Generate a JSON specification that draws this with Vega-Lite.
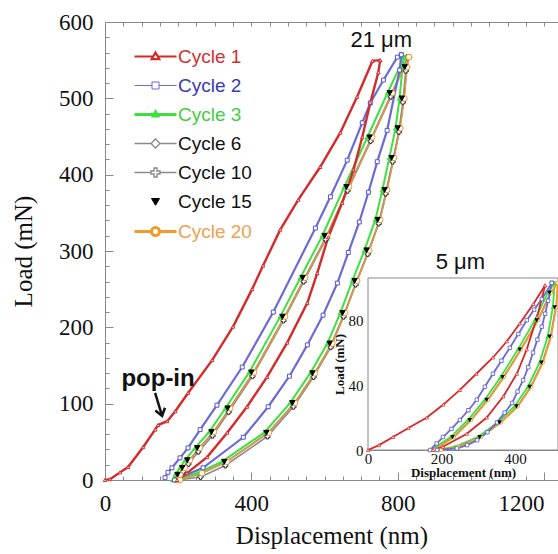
{
 "$schema": "https://vega.github.io/schema/vega-lite/v6.json",
 "width": 453, "height": 458,
 "autosize": {"type": "none"},
 "padding": {"left": 105, "top": 22, "right": 0, "bottom": 74},
 "background": "white",
 "config": {"view": {"stroke": null}, "axis": {"grid": false, "domainColor": "#888", "tickColor": "#888", "labelColor": "#111", "titleColor": "#111", "labelFont": "Liberation Serif", "titleFont": "Liberation Serif", "titleFontWeight": "normal", "labelOverlap": false, "labelFlush": false}},
 "datasets": {
  "m": [
   {"c":"Cycle 6","b":"L","x":198,"y":0},{"c":"Cycle 6","b":"L","x":204,"y":7},{"c":"Cycle 6","b":"L","x":217,"y":16},{"c":"Cycle 6","b":"L","x":231,"y":26},{"c":"Cycle 6","b":"L","x":258,"y":42},{"c":"Cycle 6","b":"L","x":297,"y":63},{"c":"Cycle 6","b":"L","x":341,"y":94},{"c":"Cycle 6","b":"L","x":406,"y":141},{"c":"Cycle 6","b":"L","x":491,"y":214},{"c":"Cycle 6","b":"L","x":546,"y":265},{"c":"Cycle 6","b":"L","x":606,"y":320},{"c":"Cycle 6","b":"L","x":666,"y":384},{"c":"Cycle 6","b":"L","x":729,"y":449},{"c":"Cycle 6","b":"L","x":784,"y":507},{"c":"Cycle 6","b":"L","x":830,"y":554},
   {"c":"Cycle 6","b":"U","x":830,"y":554},{"c":"Cycle 6","b":"U","x":825,"y":541},{"c":"Cycle 6","b":"U","x":817,"y":500},{"c":"Cycle 6","b":"U","x":806,"y":461},{"c":"Cycle 6","b":"U","x":789,"y":422},{"c":"Cycle 6","b":"U","x":770,"y":380},{"c":"Cycle 6","b":"U","x":751,"y":341},{"c":"Cycle 6","b":"U","x":721,"y":301},{"c":"Cycle 6","b":"U","x":688,"y":261},{"c":"Cycle 6","b":"U","x":655,"y":219},{"c":"Cycle 6","b":"U","x":620,"y":179},{"c":"Cycle 6","b":"U","x":573,"y":140},{"c":"Cycle 6","b":"U","x":518,"y":101},{"c":"Cycle 6","b":"U","x":447,"y":62},{"c":"Cycle 6","b":"U","x":332,"y":24},{"c":"Cycle 6","b":"U","x":264,"y":9},{"c":"Cycle 6","b":"U","x":204,"y":0},
   {"c":"Cycle 10","b":"L","x":195,"y":0},{"c":"Cycle 10","b":"L","x":201,"y":2},{"c":"Cycle 10","b":"L","x":214,"y":11},{"c":"Cycle 10","b":"L","x":228,"y":21},{"c":"Cycle 10","b":"L","x":255,"y":37},{"c":"Cycle 10","b":"L","x":294,"y":58},{"c":"Cycle 10","b":"L","x":338,"y":89},{"c":"Cycle 10","b":"L","x":403,"y":136},{"c":"Cycle 10","b":"L","x":488,"y":209},{"c":"Cycle 10","b":"L","x":543,"y":260},{"c":"Cycle 10","b":"L","x":603,"y":315},{"c":"Cycle 10","b":"L","x":663,"y":379},{"c":"Cycle 10","b":"L","x":726,"y":444},{"c":"Cycle 10","b":"L","x":781,"y":502},{"c":"Cycle 10","b":"L","x":827,"y":554},
   {"c":"Cycle 10","b":"U","x":827,"y":554},{"c":"Cycle 10","b":"U","x":822,"y":536},{"c":"Cycle 10","b":"U","x":814,"y":495},{"c":"Cycle 10","b":"U","x":803,"y":456},{"c":"Cycle 10","b":"U","x":786,"y":417},{"c":"Cycle 10","b":"U","x":767,"y":375},{"c":"Cycle 10","b":"U","x":748,"y":336},{"c":"Cycle 10","b":"U","x":718,"y":296},{"c":"Cycle 10","b":"U","x":685,"y":256},{"c":"Cycle 10","b":"U","x":652,"y":214},{"c":"Cycle 10","b":"U","x":617,"y":174},{"c":"Cycle 10","b":"U","x":570,"y":135},{"c":"Cycle 10","b":"U","x":515,"y":96},{"c":"Cycle 10","b":"U","x":444,"y":57},{"c":"Cycle 10","b":"U","x":329,"y":19},{"c":"Cycle 10","b":"U","x":261,"y":4},{"c":"Cycle 10","b":"U","x":201,"y":0},
   {"c":"Cycle 3","b":"L","x":186,"y":0},{"c":"Cycle 3","b":"L","x":192,"y":7},{"c":"Cycle 3","b":"L","x":205,"y":16},{"c":"Cycle 3","b":"L","x":219,"y":26},{"c":"Cycle 3","b":"L","x":246,"y":42},{"c":"Cycle 3","b":"L","x":285,"y":63},{"c":"Cycle 3","b":"L","x":329,"y":94},{"c":"Cycle 3","b":"L","x":394,"y":141},{"c":"Cycle 3","b":"L","x":479,"y":214},{"c":"Cycle 3","b":"L","x":534,"y":265},{"c":"Cycle 3","b":"L","x":594,"y":320},{"c":"Cycle 3","b":"L","x":654,"y":384},{"c":"Cycle 3","b":"L","x":717,"y":449},{"c":"Cycle 3","b":"L","x":772,"y":507},{"c":"Cycle 3","b":"L","x":818,"y":554},
   {"c":"Cycle 3","b":"U","x":818,"y":554},{"c":"Cycle 3","b":"U","x":813,"y":541},{"c":"Cycle 3","b":"U","x":805,"y":500},{"c":"Cycle 3","b":"U","x":794,"y":461},{"c":"Cycle 3","b":"U","x":777,"y":422},{"c":"Cycle 3","b":"U","x":758,"y":380},{"c":"Cycle 3","b":"U","x":739,"y":341},{"c":"Cycle 3","b":"U","x":709,"y":301},{"c":"Cycle 3","b":"U","x":676,"y":261},{"c":"Cycle 3","b":"U","x":643,"y":219},{"c":"Cycle 3","b":"U","x":608,"y":179},{"c":"Cycle 3","b":"U","x":561,"y":140},{"c":"Cycle 3","b":"U","x":506,"y":101},{"c":"Cycle 3","b":"U","x":435,"y":62},{"c":"Cycle 3","b":"U","x":320,"y":24},{"c":"Cycle 3","b":"U","x":252,"y":9},{"c":"Cycle 3","b":"U","x":192,"y":0},
   {"c":"Cycle 20","b":"L","x":199,"y":0},{"c":"Cycle 20","b":"L","x":205,"y":7},{"c":"Cycle 20","b":"L","x":218,"y":16},{"c":"Cycle 20","b":"L","x":232,"y":26},{"c":"Cycle 20","b":"L","x":259,"y":42},{"c":"Cycle 20","b":"L","x":298,"y":63},{"c":"Cycle 20","b":"L","x":342,"y":94},{"c":"Cycle 20","b":"L","x":407,"y":141},{"c":"Cycle 20","b":"L","x":492,"y":214},{"c":"Cycle 20","b":"L","x":547,"y":265},{"c":"Cycle 20","b":"L","x":607,"y":320},{"c":"Cycle 20","b":"L","x":667,"y":384},{"c":"Cycle 20","b":"L","x":730,"y":449},{"c":"Cycle 20","b":"L","x":785,"y":507},{"c":"Cycle 20","b":"L","x":831,"y":554},
   {"c":"Cycle 20","b":"U","x":831,"y":554},{"c":"Cycle 20","b":"U","x":826,"y":541},{"c":"Cycle 20","b":"U","x":818,"y":500},{"c":"Cycle 20","b":"U","x":807,"y":461},{"c":"Cycle 20","b":"U","x":790,"y":422},{"c":"Cycle 20","b":"U","x":771,"y":380},{"c":"Cycle 20","b":"U","x":752,"y":341},{"c":"Cycle 20","b":"U","x":722,"y":301},{"c":"Cycle 20","b":"U","x":689,"y":261},{"c":"Cycle 20","b":"U","x":656,"y":219},{"c":"Cycle 20","b":"U","x":621,"y":179},{"c":"Cycle 20","b":"U","x":574,"y":140},{"c":"Cycle 20","b":"U","x":519,"y":101},{"c":"Cycle 20","b":"U","x":448,"y":62},{"c":"Cycle 20","b":"U","x":333,"y":24},{"c":"Cycle 20","b":"U","x":265,"y":9},{"c":"Cycle 20","b":"U","x":205,"y":0},
   {"c":"Cycle 2","b":"L","x":164,"y":3},{"c":"Cycle 2","b":"L","x":172,"y":10},{"c":"Cycle 2","b":"L","x":183,"y":16},{"c":"Cycle 2","b":"L","x":205,"y":29},{"c":"Cycle 2","b":"L","x":227,"y":42},{"c":"Cycle 2","b":"L","x":260,"y":66},{"c":"Cycle 2","b":"L","x":306,"y":98},{"c":"Cycle 2","b":"L","x":375,"y":148},{"c":"Cycle 2","b":"L","x":460,"y":220},{"c":"Cycle 2","b":"L","x":575,"y":330},{"c":"Cycle 2","b":"L","x":616,"y":371},{"c":"Cycle 2","b":"L","x":662,"y":419},{"c":"Cycle 2","b":"L","x":703,"y":468},{"c":"Cycle 2","b":"L","x":725,"y":494},{"c":"Cycle 2","b":"L","x":761,"y":524},{"c":"Cycle 2","b":"L","x":799,"y":554},{"c":"Cycle 2","b":"L","x":810,"y":557},
   {"c":"Cycle 2","b":"U","x":810,"y":557},{"c":"Cycle 2","b":"U","x":805,"y":537},{"c":"Cycle 2","b":"U","x":771,"y":458},{"c":"Cycle 2","b":"U","x":744,"y":417},{"c":"Cycle 2","b":"U","x":720,"y":377},{"c":"Cycle 2","b":"U","x":695,"y":338},{"c":"Cycle 2","b":"U","x":665,"y":298},{"c":"Cycle 2","b":"U","x":635,"y":258},{"c":"Cycle 2","b":"U","x":596,"y":216},{"c":"Cycle 2","b":"U","x":553,"y":177},{"c":"Cycle 2","b":"U","x":504,"y":136},{"c":"Cycle 2","b":"U","x":446,"y":96},{"c":"Cycle 2","b":"U","x":378,"y":56},{"c":"Cycle 2","b":"U","x":268,"y":16},{"c":"Cycle 2","b":"U","x":190,"y":0},
   {"c":"Cycle 1","b":"L","x":0,"y":0},{"c":"Cycle 1","b":"L","x":14,"y":1},{"c":"Cycle 1","b":"L","x":41,"y":10},{"c":"Cycle 1","b":"L","x":63,"y":17},{"c":"Cycle 1","b":"L","x":104,"y":43},{"c":"Cycle 1","b":"L","x":137,"y":66},{"c":"Cycle 1","b":"L","x":145,"y":72},{"c":"Cycle 1","b":"L","x":170,"y":77},{"c":"Cycle 1","b":"L","x":192,"y":90},{"c":"Cycle 1","b":"L","x":227,"y":114},{"c":"Cycle 1","b":"L","x":293,"y":157},{"c":"Cycle 1","b":"L","x":350,"y":201},{"c":"Cycle 1","b":"L","x":402,"y":250},{"c":"Cycle 1","b":"L","x":432,"y":281},{"c":"Cycle 1","b":"L","x":479,"y":328},{"c":"Cycle 1","b":"L","x":528,"y":367},{"c":"Cycle 1","b":"L","x":588,"y":410},{"c":"Cycle 1","b":"L","x":643,"y":455},{"c":"Cycle 1","b":"L","x":689,"y":502},{"c":"Cycle 1","b":"L","x":731,"y":549},{"c":"Cycle 1","b":"L","x":752,"y":550},
   {"c":"Cycle 1","b":"U","x":752,"y":550},{"c":"Cycle 1","b":"U","x":747,"y":534},{"c":"Cycle 1","b":"U","x":725,"y":494},{"c":"Cycle 1","b":"U","x":703,"y":449},{"c":"Cycle 1","b":"U","x":679,"y":406},{"c":"Cycle 1","b":"U","x":648,"y":363},{"c":"Cycle 1","b":"U","x":610,"y":318},{"c":"Cycle 1","b":"U","x":580,"y":271},{"c":"Cycle 1","b":"U","x":553,"y":232},{"c":"Cycle 1","b":"U","x":498,"y":180},{"c":"Cycle 1","b":"U","x":443,"y":135},{"c":"Cycle 1","b":"U","x":388,"y":96},{"c":"Cycle 1","b":"U","x":334,"y":62},{"c":"Cycle 1","b":"U","x":279,"y":30},{"c":"Cycle 1","b":"U","x":224,"y":9},{"c":"Cycle 1","b":"U","x":197,"y":0},
   {"c":"Cycle 15","b":"L","x":198,"y":7},{"c":"Cycle 15","b":"L","x":211,"y":16},{"c":"Cycle 15","b":"L","x":225,"y":26},{"c":"Cycle 15","b":"L","x":252,"y":42},{"c":"Cycle 15","b":"L","x":291,"y":63},{"c":"Cycle 15","b":"L","x":335,"y":94},{"c":"Cycle 15","b":"L","x":400,"y":141},{"c":"Cycle 15","b":"L","x":485,"y":214},{"c":"Cycle 15","b":"L","x":540,"y":265},{"c":"Cycle 15","b":"L","x":600,"y":320},{"c":"Cycle 15","b":"L","x":660,"y":384},{"c":"Cycle 15","b":"L","x":723,"y":449},{"c":"Cycle 15","b":"L","x":778,"y":507},
   {"c":"Cycle 15","b":"U","x":819,"y":541},{"c":"Cycle 15","b":"U","x":811,"y":500},{"c":"Cycle 15","b":"U","x":800,"y":461},{"c":"Cycle 15","b":"U","x":783,"y":422},{"c":"Cycle 15","b":"U","x":764,"y":380},{"c":"Cycle 15","b":"U","x":745,"y":341},{"c":"Cycle 15","b":"U","x":715,"y":301},{"c":"Cycle 15","b":"U","x":682,"y":261},{"c":"Cycle 15","b":"U","x":649,"y":219},{"c":"Cycle 15","b":"U","x":614,"y":179},{"c":"Cycle 15","b":"U","x":567,"y":140},{"c":"Cycle 15","b":"U","x":512,"y":101},{"c":"Cycle 15","b":"U","x":441,"y":62},{"c":"Cycle 15","b":"U","x":326,"y":24}
  ],
  "n": [
   {"c":"Cycle 6","b":"L","x":179,"y":0},{"c":"Cycle 6","b":"L","x":233,"y":8},{"c":"Cycle 6","b":"L","x":280,"y":18.5},{"c":"Cycle 6","b":"L","x":326,"y":31},{"c":"Cycle 6","b":"L","x":369,"y":45},{"c":"Cycle 6","b":"L","x":416,"y":62},{"c":"Cycle 6","b":"L","x":462,"y":80},{"c":"Cycle 6","b":"L","x":497,"y":97},
   {"c":"Cycle 6","b":"U","x":511,"y":88},{"c":"Cycle 6","b":"U","x":497,"y":70},{"c":"Cycle 6","b":"U","x":475,"y":54},{"c":"Cycle 6","b":"U","x":443,"y":39},{"c":"Cycle 6","b":"U","x":407,"y":27},{"c":"Cycle 6","b":"U","x":361,"y":17},{"c":"Cycle 6","b":"U","x":307,"y":8},{"c":"Cycle 6","b":"U","x":244,"y":2},
   {"c":"Cycle 3","b":"L","x":171,"y":0},{"c":"Cycle 3","b":"L","x":225,"y":8},{"c":"Cycle 3","b":"L","x":272,"y":18.5},{"c":"Cycle 3","b":"L","x":318,"y":31},{"c":"Cycle 3","b":"L","x":361,"y":45},{"c":"Cycle 3","b":"L","x":408,"y":62},{"c":"Cycle 3","b":"L","x":454,"y":80},{"c":"Cycle 3","b":"L","x":489,"y":97},{"c":"Cycle 3","b":"L","x":508,"y":103},
   {"c":"Cycle 3","b":"U","x":508,"y":103},{"c":"Cycle 3","b":"U","x":503,"y":88},{"c":"Cycle 3","b":"U","x":489,"y":70},{"c":"Cycle 3","b":"U","x":467,"y":54},{"c":"Cycle 3","b":"U","x":435,"y":39},{"c":"Cycle 3","b":"U","x":399,"y":27},{"c":"Cycle 3","b":"U","x":353,"y":17},{"c":"Cycle 3","b":"U","x":299,"y":8},{"c":"Cycle 3","b":"U","x":236,"y":2},{"c":"Cycle 3","b":"U","x":190,"y":0},
   {"c":"Cycle 20","b":"L","x":180,"y":0},{"c":"Cycle 20","b":"L","x":234,"y":8},{"c":"Cycle 20","b":"L","x":281,"y":18.5},{"c":"Cycle 20","b":"L","x":327,"y":31},{"c":"Cycle 20","b":"L","x":370,"y":45},{"c":"Cycle 20","b":"L","x":417,"y":62},{"c":"Cycle 20","b":"L","x":463,"y":80},{"c":"Cycle 20","b":"L","x":498,"y":97},{"c":"Cycle 20","b":"L","x":516,"y":103},
   {"c":"Cycle 20","b":"U","x":516,"y":103},{"c":"Cycle 20","b":"U","x":512,"y":88},{"c":"Cycle 20","b":"U","x":498,"y":70},{"c":"Cycle 20","b":"U","x":476,"y":54},{"c":"Cycle 20","b":"U","x":444,"y":39},{"c":"Cycle 20","b":"U","x":408,"y":27},{"c":"Cycle 20","b":"U","x":362,"y":17},{"c":"Cycle 20","b":"U","x":308,"y":8},{"c":"Cycle 20","b":"U","x":245,"y":2},{"c":"Cycle 20","b":"U","x":199,"y":0},
   {"c":"Cycle 2","b":"L","x":169,"y":0},{"c":"Cycle 2","b":"L","x":187,"y":4},{"c":"Cycle 2","b":"L","x":204,"y":8},{"c":"Cycle 2","b":"L","x":227,"y":13},{"c":"Cycle 2","b":"L","x":250,"y":18.5},{"c":"Cycle 2","b":"L","x":273,"y":24.5},{"c":"Cycle 2","b":"L","x":296,"y":31},{"c":"Cycle 2","b":"L","x":318,"y":39},{"c":"Cycle 2","b":"L","x":340,"y":47},{"c":"Cycle 2","b":"L","x":363,"y":55},{"c":"Cycle 2","b":"L","x":386,"y":63},{"c":"Cycle 2","b":"L","x":409,"y":71.5},{"c":"Cycle 2","b":"L","x":432,"y":80},{"c":"Cycle 2","b":"L","x":452,"y":86.5},{"c":"Cycle 2","b":"L","x":473,"y":93},{"c":"Cycle 2","b":"L","x":500,"y":103},
   {"c":"Cycle 2","b":"U","x":500,"y":103},{"c":"Cycle 2","b":"U","x":490,"y":92},{"c":"Cycle 2","b":"U","x":482,"y":84},{"c":"Cycle 2","b":"U","x":473,"y":76},{"c":"Cycle 2","b":"U","x":461,"y":68},{"c":"Cycle 2","b":"U","x":449,"y":60},{"c":"Cycle 2","b":"U","x":436,"y":51},{"c":"Cycle 2","b":"U","x":422,"y":43},{"c":"Cycle 2","b":"U","x":407,"y":36},{"c":"Cycle 2","b":"U","x":392,"y":29},{"c":"Cycle 2","b":"U","x":372,"y":23},{"c":"Cycle 2","b":"U","x":351,"y":17},{"c":"Cycle 2","b":"U","x":325,"y":11},{"c":"Cycle 2","b":"U","x":297,"y":6},{"c":"Cycle 2","b":"U","x":270,"y":3},{"c":"Cycle 2","b":"U","x":242,"y":1},{"c":"Cycle 2","b":"U","x":188,"y":0},
   {"c":"Cycle 1","b":"L","x":0,"y":0},{"c":"Cycle 1","b":"L","x":30,"y":3},{"c":"Cycle 1","b":"L","x":68,"y":8},{"c":"Cycle 1","b":"L","x":110,"y":13.5},{"c":"Cycle 1","b":"L","x":160,"y":20},{"c":"Cycle 1","b":"L","x":205,"y":28},{"c":"Cycle 1","b":"L","x":250,"y":37},{"c":"Cycle 1","b":"L","x":295,"y":47},{"c":"Cycle 1","b":"L","x":340,"y":57},{"c":"Cycle 1","b":"L","x":378,"y":67},{"c":"Cycle 1","b":"L","x":413,"y":78},{"c":"Cycle 1","b":"L","x":450,"y":90},{"c":"Cycle 1","b":"L","x":482,"y":101.5},
   {"c":"Cycle 1","b":"U","x":482,"y":101.5},{"c":"Cycle 1","b":"U","x":460,"y":82},{"c":"Cycle 1","b":"U","x":432,"y":62},{"c":"Cycle 1","b":"U","x":405,"y":47},{"c":"Cycle 1","b":"U","x":368,"y":33},{"c":"Cycle 1","b":"U","x":323,"y":20},{"c":"Cycle 1","b":"U","x":269,"y":10},{"c":"Cycle 1","b":"U","x":204,"y":2},{"c":"Cycle 1","b":"U","x":177,"y":0},
   {"c":"Cycle 15","b":"L","x":230,"y":8},{"c":"Cycle 15","b":"L","x":277,"y":18.5},{"c":"Cycle 15","b":"L","x":323,"y":31},{"c":"Cycle 15","b":"L","x":366,"y":45},{"c":"Cycle 15","b":"L","x":413,"y":62},{"c":"Cycle 15","b":"L","x":459,"y":80},{"c":"Cycle 15","b":"L","x":494,"y":97},
   {"c":"Cycle 15","b":"U","x":508,"y":88},{"c":"Cycle 15","b":"U","x":494,"y":70},{"c":"Cycle 15","b":"U","x":472,"y":54},{"c":"Cycle 15","b":"U","x":440,"y":39},{"c":"Cycle 15","b":"U","x":404,"y":27},{"c":"Cycle 15","b":"U","x":358,"y":17},{"c":"Cycle 15","b":"U","x":304,"y":8}
  ]
 },
 "layer": [
  {
   "data": {"name": "m"},
   "layer": [
    {
     "transform": [{"filter": "datum.c != 'Cycle 15'"}],
     "mark": {"type": "line", "clip": true},
     "encoding": {
      "x": {"field": "x", "type": "quantitative", "scale": {"domain": [0, 1238], "nice": false, "zero": false},
            "axis": {"orient": "bottom", "title": "Displacement (nm)", "values": [0, 400, 800, 1200], "format": "d", "tickSize": -8,
                     "labelAlign": {"condition": {"test": "datum.value >= 1200", "value": "right"}, "value": "center"},
                     "labelFontSize": 23, "labelPadding": 20, "titleFontSize": 25, "titlePadding": 8}},
      "y": {"field": "y", "type": "quantitative", "scale": {"domain": [0, 600], "nice": false},
            "axis": {"orient": "left", "title": "Load (mN)", "values": [0, 100, 200, 300, 400, 500, 600], "format": "d", "tickSize": -8,
                     "labelFontSize": 23, "labelPadding": 20, "titleFontSize": 25, "titlePadding": 22}},
      "color": {"field": "c", "type": "nominal",
                "scale": {"domain": ["Cycle 1","Cycle 2","Cycle 3","Cycle 6","Cycle 10","Cycle 15","Cycle 20"], "range": ["#d42a2a","#6b6bd6","#3ee03e","#8a8a8a","#8a8a8a","#000000","#f39a2b"]},
                "legend": {"orient": "none", "legendX": 41, "legendY": 25, "title": null, "symbolSize": 400, "labelFont": "Liberation Sans", "labelFontSize": 19, "labelOffset": 13, "rowPadding": 9, "padding": 0, "symbolStrokeWidth": 1.5,
                  "encode": {
                   "symbols": {"update": {
                     "shape": {"signal": "datum.value == 'Cycle 1' ? 'M-2.1,0L-0.23,0M0.23,0L2.1,0M0,-0.4L0.38,0.26L-0.38,0.26Z' : datum.value == 'Cycle 2' ? 'M-2.1,0L-0.35,0M0.35,0L2.1,0M-0.35,-0.35L0.35,-0.35L0.35,0.35L-0.35,0.35Z' : datum.value == 'Cycle 3' ? 'M-2.1,0L2.1,0M0,-0.25L0.22,0.15L-0.22,0.15Z' : datum.value == 'Cycle 6' ? 'M-2.1,0L-0.45,0M0.45,0L2.1,0M0,-0.45L0.45,0L0,0.45L-0.45,0Z' : datum.value == 'Cycle 10' ? 'M-2.1,0L-0.45,0M0.45,0L2.1,0M-0.15,-0.45L0.15,-0.45L0.15,-0.15L0.45,-0.15L0.45,0.15L0.15,0.15L0.15,0.45L-0.15,0.45L-0.15,0.15L-0.45,0.15L-0.45,-0.15L-0.15,-0.15Z' : datum.value == 'Cycle 15' ? 'M-0.4,-0.3L0.4,-0.3L0,0.38Z' : 'M-2.1,0L-0.4,0M0.4,0L2.1,0M0.4,0A0.4,0.4,0,1,1,-0.4,0A0.4,0.4,0,1,1,0.4,0'"},
                     "size": {"value": 400},
                     "fill": {"signal": "datum.value == 'Cycle 3' ? '#3ee03e' : datum.value == 'Cycle 15' ? '#000000' : '#ffffff'"},
                     "strokeWidth": {"signal": "datum.value == 'Cycle 1' ? 2.2 : datum.value == 'Cycle 3' || datum.value == 'Cycle 20' ? 3 : datum.value == 'Cycle 2' || datum.value == 'Cycle 15' ? 1 : 1.4"},
                     "opacity": {"value": 1}
                   }},
                   "labels": {"update": {"fill": {"signal": "datum.value == 'Cycle 1' ? '#d03030' : datum.value == 'Cycle 2' ? '#3a3ab0' : datum.value == 'Cycle 3' ? '#44cc44' : datum.value == 'Cycle 20' ? '#eca24e' : '#111111'"}}}
                  }}},
      "strokeWidth": {"field": "c", "type": "nominal", "scale": {"domain": ["Cycle 1","Cycle 2","Cycle 3","Cycle 6","Cycle 10","Cycle 15","Cycle 20","none"], "range": [2.4, 1, 3.4, 1.2, 1.2, 1, 3.4, 1]}, "legend": null},
      "detail": {"field": "b"}
     }
    },
    {
     "mark": {"type": "point", "filled": true, "strokeWidth": 1, "opacity": 1},
     "encoding": {
      "x": {"field": "x", "type": "quantitative"},
      "y": {"field": "y", "type": "quantitative"},
      "shape": {"field": "c", "type": "nominal", "scale": {"domain": ["Cycle 1","Cycle 2","Cycle 3","Cycle 6","Cycle 10","Cycle 15","Cycle 20","none"], "range": ["triangle-up","square","triangle-up","diamond","cross","triangle-down","circle","circle"]}, "legend": null},
      "fill": {"field": "c", "type": "nominal", "scale": {"domain": ["Cycle 1","Cycle 2","Cycle 3","Cycle 6","Cycle 10","Cycle 15","Cycle 20","none"], "range": ["#ffffff","#ffffff","#3ee03e","#ffffff","#ffffff","#000000","#ffffff","#ffffff"]}, "legend": null},
      "stroke": {"field": "c", "type": "nominal", "scale": {"domain": ["Cycle 1","Cycle 2","Cycle 3","Cycle 6","Cycle 10","Cycle 15","Cycle 20","none"], "range": ["#d42a2a","#5555cc","#3ee03e","#333333","#333333","#000000","#f39a2b","#000000"]}, "legend": null},
      "size": {"field": "c", "type": "nominal", "scale": {"domain": ["Cycle 1","Cycle 2","Cycle 3","Cycle 6","Cycle 10","Cycle 15","Cycle 20","none"], "range": [12, 36, 10, 50, 40, 45, 30, 10]}, "legend": null}
     }
    },
    {
     "data": {"values": [{}]},
     "mark": {"type": "text", "font": "Liberation Sans", "fontSize": 22, "align": "center", "baseline": "middle", "color": "#111"},
     "encoding": {"x": {"datum": 755, "type": "quantitative"}, "y": {"datum": 576, "type": "quantitative"}, "text": {"value": "21 μm"}}
    },
    {
     "data": {"values": [{}]},
     "mark": {"type": "text", "font": "Liberation Sans", "fontSize": 22, "align": "center", "baseline": "middle", "color": "#111"},
     "encoding": {"x": {"datum": 971, "type": "quantitative"}, "y": {"datum": 286, "type": "quantitative"}, "text": {"value": "5 μm"}}
    },
    {
     "data": {"values": [{}]},
     "mark": {"type": "text", "font": "Liberation Sans", "fontSize": 24, "fontWeight": "bold", "align": "center", "baseline": "middle", "color": "#111"},
     "encoding": {"x": {"datum": 145, "type": "quantitative"}, "y": {"datum": 132, "type": "quantitative"}, "text": {"value": "pop-in"}}
    },
    {
     "data": {"values": [{}]},
     "mark": {"type": "rule", "color": "#111", "strokeWidth": 2.5},
     "encoding": {"x": {"datum": 137, "type": "quantitative"}, "y": {"datum": 114, "type": "quantitative"}, "x2": {"datum": 156}, "y2": {"datum": 84}}
    },
    {
     "data": {"values": [{}]},
     "mark": {"type": "point", "shape": "M-1,-1.4L0,0L1,-1.4", "filled": false, "stroke": "#111", "strokeWidth": 2.5, "size": 100, "angle": -16, "opacity": 1},
     "encoding": {"x": {"datum": 156, "type": "quantitative"}, "y": {"datum": 84, "type": "quantitative"}}
    }
   ]
  },
  {
   "data": {"values": [{}]},
   "mark": {"type": "point", "opacity": 0},
   "encoding": {
    "x": {"datum": 0, "type": "quantitative", "scale": {"domain": [0, 1238], "nice": false, "zero": false},
          "axis": {"orient": "bottom", "title": null, "labels": false, "domain": false, "tickSize": -4, "values": [50,100,150,200,250,300,350,450,500,550,600,650,700,750,850,900,950,1000,1050,1100,1150,1250]}},
    "y": {"datum": 0, "type": "quantitative", "scale": {"domain": [0, 600], "nice": false},
          "axis": {"orient": "left", "title": null, "labels": false, "domain": false, "tickSize": -4, "values": [20,40,60,80,120,140,160,180,220,240,260,280,320,340,360,380,420,440,460,480,520,540,560,580]}}
   }
  },
  {
   "data": {"values": [{}]},
   "mark": {"type": "point", "opacity": 0},
   "encoding": {
    "x": {"datum": 0, "type": "quantitative", "scale": {"domain": [0, 1238], "nice": false, "zero": false},
          "axis": {"orient": "top", "title": null, "labels": false, "tickSize": -4, "values": [0,50,100,150,200,250,300,350,400,450,500,550,600,650,700,750,800,850,900,950,1000,1050,1100,1150,1200]}}
   }
  },
  {
   "data": {"name": "n"},
   "layer": [
    {
     "data": {"values": [{}]},
     "mark": {"type": "rect", "fill": "white", "stroke": "#888", "strokeWidth": 1},
     "encoding": {
      "x": {"datum": 0, "type": "quantitative", "scale": {"domain": [0, 517], "range": [263, 453], "nice": false, "zero": false},
            "axis": {"orient": "bottom", "offset": -30, "title": "Displacement (nm)", "values": [0, 200, 400], "format": "d", "tickSize": -5,
                     "labelFontSize": 15, "labelPadding": 6, "titleFontSize": 13, "titleFontWeight": "bold", "titlePadding": 0}},
      "x2": {"datum": 517},
      "y": {"datum": 0, "type": "quantitative", "scale": {"domain": [0, 106], "range": [428, 256], "nice": false},
            "axis": {"orient": "left", "offset": -263, "title": "Load (mN)", "values": [0, 40, 80], "format": "d", "tickSize": -5,
                     "labelFontSize": 15, "labelPadding": 10, "titleFontSize": 13, "titleFontWeight": "bold", "titlePadding": 2}},
      "y2": {"datum": 106}
     }
    },
    {
     "transform": [{"filter": "datum.c != 'Cycle 15'"}],
     "mark": {"type": "line", "strokeWidth": 1.8},
     "encoding": {
      "x": {"field": "x", "type": "quantitative"},
      "y": {"field": "y", "type": "quantitative"},
      "color": {"field": "c", "type": "nominal"},
      "detail": {"field": "b"}
     }
    },
    {
     "mark": {"type": "point", "filled": true, "strokeWidth": 0.8, "size": 12, "opacity": 1},
     "encoding": {
      "x": {"field": "x", "type": "quantitative"},
      "y": {"field": "y", "type": "quantitative"},
      "shape": {"field": "c", "type": "nominal", "legend": null},
      "fill": {"field": "c", "type": "nominal", "legend": null},
      "stroke": {"field": "c", "type": "nominal", "legend": null}
     }
    }
   ]
  },
  {
   "data": {"values": [{}]},
   "mark": {"type": "point", "opacity": 0},
   "encoding": {
    "x": {"datum": 0, "type": "quantitative", "scale": {"domain": [0, 517], "range": [263, 453], "nice": false, "zero": false},
          "axis": {"orient": "bottom", "offset": -30, "title": null, "labels": false, "domain": false, "tickSize": -3, "values": [40,80,120,160,240,280,320,360,440,480]}},
    "y": {"datum": 0, "type": "quantitative", "scale": {"domain": [0, 106], "range": [428, 256], "nice": false},
          "axis": {"orient": "left", "offset": -263, "title": null, "labels": false, "domain": false, "tickSize": -3, "values": [10,20,30,50,60,70,90,100]}}
   }
  },
  {
   "data": {"values": [{}]},
   "mark": {"type": "point", "opacity": 0},
   "encoding": {
    "x": {"datum": 0, "type": "quantitative", "scale": {"domain": [0, 517], "range": [263, 453], "nice": false, "zero": false},
          "axis": {"orient": "top", "offset": -256, "title": null, "labels": false, "domain": false, "tickSize": -3, "values": [0,40,80,120,160,200,240,280,320,360,400,440,480]}}
   }
  }
 ],
 "resolve": {"scale": {"x": "independent", "y": "independent"}}
}
